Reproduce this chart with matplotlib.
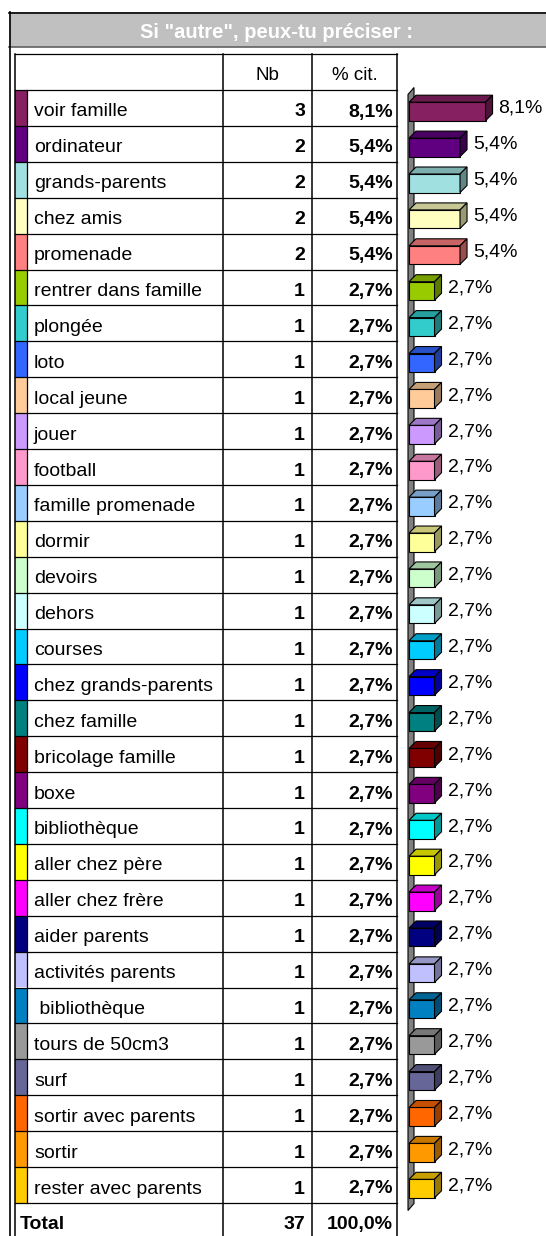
import numpy as np
import matplotlib
matplotlib.use("Agg")
import matplotlib.pyplot as plt
from matplotlib.patches import Rectangle, Polygon
from matplotlib.colors import to_rgb

# Données du tableau
titre = 'Si "autre", peux-tu préciser :'
reponses = ["voir famille", "ordinateur", "grands-parents", "chez amis", "promenade",
            "rentrer dans famille", "plongée", "loto", "local jeune", "jouer",
            "football", "famille promenade", "dormir", "devoirs", "dehors",
            "courses", "chez grands-parents", "chez famille", "bricolage famille", "boxe",
            "bibliothèque", "aller chez père", "aller chez frère", "aider parents",
            "activités parents", " bibliothèque", "tours de 50cm3", "surf",
            "sortir avec parents", "sortir", "rester avec parents"]
effectifs = [3, 2, 2, 2, 2] + [1] * 26
pourcentages = [8.1, 5.4, 5.4, 5.4, 5.4] + [2.7] * 26
couleurs = ["#862060", "#600080", "#a0e0e0", "#ffffc0", "#ff8080",
            "#99cc00", "#33cccc", "#3366ff", "#ffcc99", "#cc99ff",
            "#ff99cc", "#99ccff", "#ffff99", "#ccffcc", "#ccffff",
            "#00ccff", "#0000ff", "#008080", "#800000", "#800080",
            "#00ffff", "#ffff00", "#ff00ff", "#000080", "#c0c0ff",
            "#0080c0", "#999999", "#666699", "#ff6600", "#ff9900", "#ffcc00"]
total_nb = 37
total_pct = 100.0

plt.rcParams['font.family'] = ['Liberation Sans', 'DejaVu Sans']

W, H = 546, 1236
fig = plt.figure(figsize=(W / 100, H / 100), dpi=100)


def axes_px(x0, y0, x1, y1):
    # axes placé en pixels (origine en haut à gauche)
    return fig.add_axes([x0 / W, 1 - y1 / H, (x1 - x0) / W, (y1 - y0) / H])


def fmt(p):
    return f"{p:.1f}%".replace(".", ",")


ax = axes_px(0, 0, W, H)
ax.set_xlim(0, W)
ax.set_ylim(H, 0)
ax.axis("off")

# bandeau du titre
ax.add_patch(Rectangle((9, 12), W - 9, 35, fc="#c0c0c0", ec="none"))
ax.plot([9, W], [12.5, 12.5], color="black", lw=1.2)
ax.plot([9, W], [46.5, 46.5], color="#606060", lw=1.2)
ax.plot([9.5, 9.5], [12, H], color="black", lw=1.2)
ax.text(277, 38, titre, color="white", fontsize=14.5, fontweight="bold",
        ha="center", va="baseline")

# tableau
n = len(reponses)
row_h = 35.9
y_head = 54
y0 = 90
x_l, x_sw, x_nb, x_pc, x_r = 14.5, 27, 223, 312, 397
fs = 14

for i, (lab, nb, p, c) in enumerate(zip(reponses, effectifs, pourcentages, couleurs)):
    top = y0 + i * row_h
    ax.add_patch(Rectangle((x_l, top), x_sw - x_l, row_h, fc=c, ec="none"))
    ax.text(34, top + 26.5, lab, fontsize=fs, ha="left", va="baseline")
    ax.text(305, top + 26.5, str(nb), fontsize=fs, fontweight="bold", ha="right", va="baseline")
    ax.text(393, top + 26.5, fmt(p), fontsize=fs, fontweight="bold", ha="right", va="baseline")

y_tot = y0 + n * row_h
ax.text(20, y_tot + 26.5, "Total", fontsize=fs, fontweight="bold", ha="left", va="baseline")
ax.text(305, y_tot + 26.5, str(total_nb), fontsize=fs, fontweight="bold", ha="right", va="baseline")
ax.text(393, y_tot + 26.5, fmt(total_pct), fontsize=fs, fontweight="bold", ha="right", va="baseline")

ax.text((x_nb + x_pc) / 2, y_head + 26, "Nb", fontsize=13.5, ha="center", va="baseline")
ax.text((x_pc + x_r) / 2, y_head + 26, "% cit.", fontsize=13.5, ha="center", va="baseline")

# lignes du tableau
for k in range(n + 2):
    yy = y0 + (k - 1) * row_h if k > 0 else y_head
    ax.plot([x_l, x_r], [yy, yy], color="black", lw=0.9)
for xx in [x_l, x_nb, x_pc, x_r]:
    ax.plot([xx, xx], [y_head, H], color="black", lw=1.1)
ax.plot([x_sw, x_sw], [y0, y_tot], color="black", lw=0.9)

# graphique en barres 3D
ppu = 9.45
bx = axes_px(409, 93.5, W, 1206.5)
bx.set_xlim(0, (W - 409) / ppu)
bx.set_ylim(n - 0.5, -0.5)
bx.axis("off")

dx = 7 / ppu
dy = 7 / row_h
h = 18.5 / row_h

# paroi grise
wx0 = -1 / ppu
wx1 = wx0 + 6 / ppu
bx.add_patch(Polygon([(wx0, -0.5 + 1 / row_h), (wx1, -0.5 - dy + 1 / row_h),
                      (wx1, n - 0.5 - dy + 4 / row_h), (wx0, n - 0.5 + 4 / row_h)],
                     closed=True, fc="#808080", ec="black", lw=0.8, clip_on=False))

ypos = np.arange(n)
bx.barh(ypos, pourcentages, height=h, color=couleurs, edgecolor="black", linewidth=0.8,
        clip_on=False, zorder=3)
for i, (p, c) in enumerate(zip(pourcentages, couleurs)):
    rgb = np.array(to_rgb(c))
    yt = i - h / 2
    yb = i + h / 2
    bx.add_patch(Polygon([(0, yt), (p, yt), (p + dx, yt - dy), (dx, yt - dy)], closed=True,
                         fc=rgb * 0.78, ec="black", lw=0.8, clip_on=False, zorder=3))
    bx.add_patch(Polygon([(p, yt), (p + dx, yt - dy), (p + dx, yb - dy), (p, yb)], closed=True,
                         fc=rgb * 0.6, ec="black", lw=0.8, clip_on=False, zorder=3))
    bx.annotate(fmt(p), xy=(p, i), xytext=(13 * 0.72, -1.5 * 0.72), textcoords="offset points",
                fontsize=fs, ha="left", va="baseline", annotation_clip=False)

fig.savefig("out.png", dpi=100)
